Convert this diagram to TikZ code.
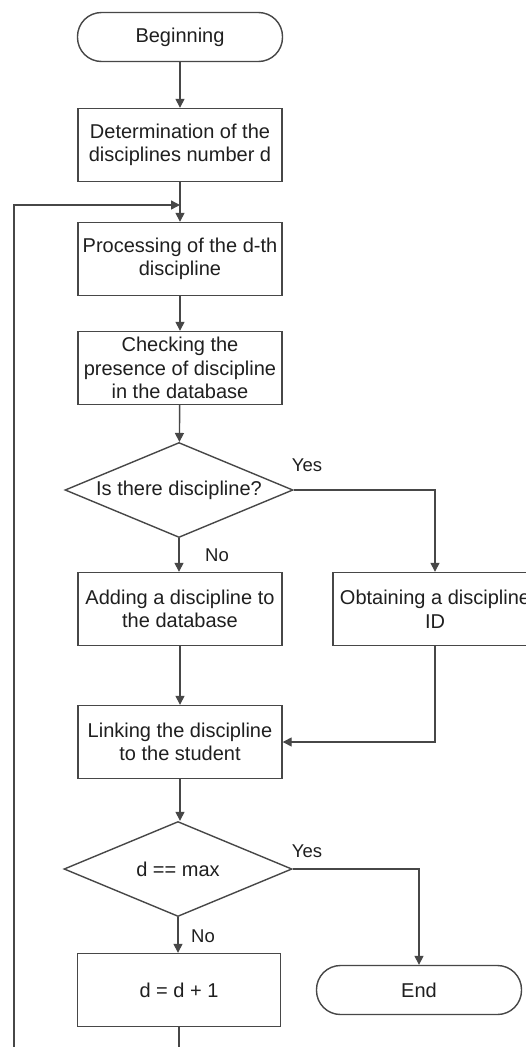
\documentclass[tikz,border=0pt]{standalone}
\usepackage{fontspec}
\setmainfont{Liberation Sans}
\usetikzlibrary{shapes.geometric,arrows.meta}

\begin{document}
\begin{tikzpicture}[x=1pt,y=-1pt,
  every node/.style={font=\fontsize{20}{23.5}\selectfont, text=black!88},
  line/.style={draw=black!72, line width=1.4pt},
  arrow/.style={line, -{Triangle[length=9pt,width=9pt]}},
  procbox/.style={line, rectangle, minimum width=204pt, minimum height=73pt,
    inner sep=0pt, align=center},
  terminal/.style={line, rectangle, rounded corners=24pt, minimum width=205pt,
    minimum height=49pt, inner sep=0pt},
  decision/.style={line, diamond, shape aspect=2.4, minimum width=228pt,
    minimum height=95pt, inner sep=0pt},
  branch/.style={font=\fontsize{18.5}{20}\selectfont}
]
\useasboundingbox (0,0) rectangle (526,1047);
\clip (0,0) rectangle (526,1047);
\fill[white] (0,0) rectangle (526,1047);

% main column
\node[terminal] (begin) at (180,37) {Beginning};
\node[procbox] (count) at (180,145) {Determination of the\\disciplines number d};
\node[procbox] (proc) at (180,259) {Processing of the d-th\\discipline};
\node[procbox] (check) at (180,368) {Checking the\\presence of discipline\\in the database};
\node[decision] (isthere) at (179,490) {Is there discipline?};
\node[procbox] (add) at (180,609) {Adding a discipline to\\the database};
\node[procbox] (getid) at (435,609) {Obtaining a discipline\\ID};
\node[procbox] (link) at (180,742) {Linking the discipline\\to the student};
\node[decision] (ismax) at (178,869) {d == max};
\node[procbox, minimum width=203pt] (incr) at (179,990) {d = d + 1};
\node[terminal] (finish) at (419,990) {End};

% loop ends leaving the drawing area
\coordinate (join) at (180,205);
\coordinate (loopfoot) at (14,1047);
\coordinate (incrfoot) at (179,1047);

% connectors
\draw[arrow] (begin) -- (count);
\draw[line] (count) -- (join);
\draw[arrow] (join) -- (proc);
\draw[arrow] (loopfoot) |- (join);
\draw[arrow] (proc) -- (check);
\draw[arrow] (check) -- (isthere);
\draw[arrow] (isthere.east) -| (getid.north);
\draw[arrow] (isthere.south) -- (add.north -| isthere.south);
\draw[arrow] (add) -- (link);
\draw[arrow] (getid.south) |- (link.east);
\draw[arrow] (link.south) -- (ismax.north -| link.south);
\draw[arrow] (ismax.east) -| (finish.north);
\draw[arrow] (ismax.south) -- (incr.north -| ismax.south);
\draw[line] (incr) -- (incrfoot);

% branch labels
\node[branch] (yes1) at (307,465) {Yes};
\node[branch] (no1) at (217,555) {No};
\node[branch] (yes2) at (307,851) {Yes};
\node[branch] (no2) at (203,936) {No};
\end{tikzpicture}
\end{document}
